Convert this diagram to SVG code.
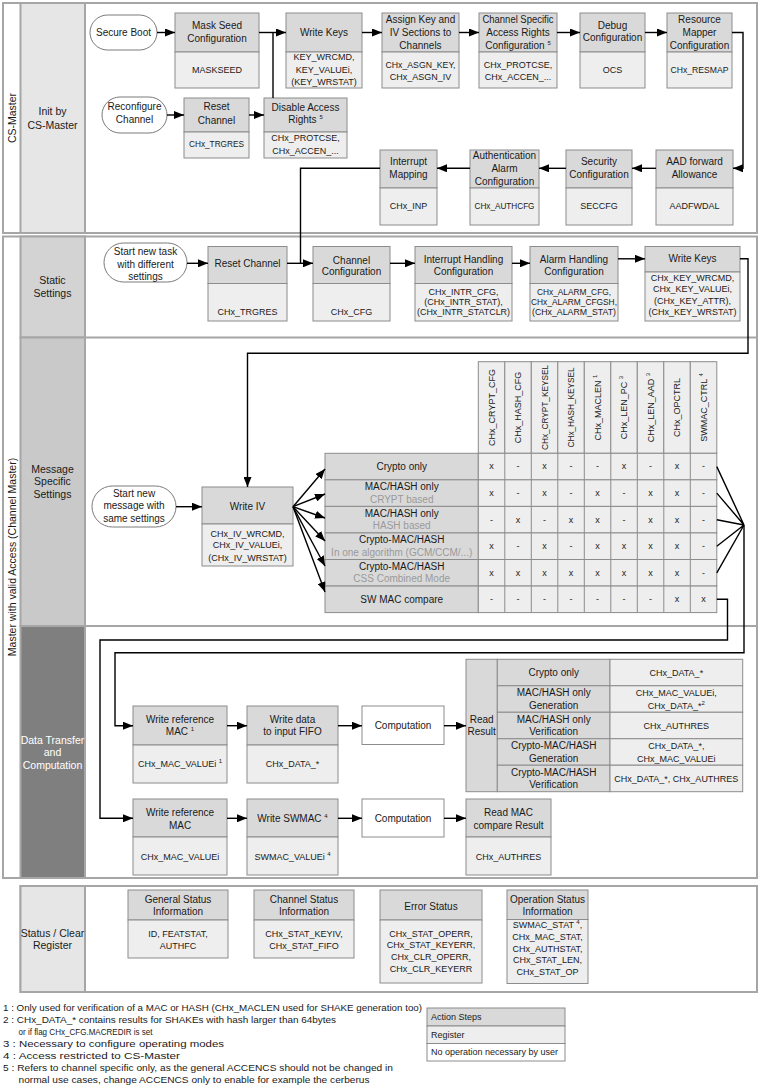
<svg xmlns="http://www.w3.org/2000/svg" width="770" height="1085" viewBox="0 0 770 1085">
<defs>
<marker id="ah" viewBox="0 0 10 8" refX="10" refY="4" markerWidth="10" markerHeight="8" markerUnits="userSpaceOnUse" orient="auto"><path d="M0,0L10,4L0,8z" fill="#000"/></marker>
<style>
.t{font-family:"Liberation Sans",Arial,sans-serif;font-size:10px;fill:#1a1a1a;text-anchor:middle}
.s{font-size:9px}
.l{font-size:10.5px}
.w{fill:#fff}
.gr{fill:#9a9a9a}
.st{text-anchor:start}
.hd{fill:#d9d9d9;stroke:#8c8c8c;stroke-width:1}
.bd{fill:#eeeeee;stroke:#8c8c8c;stroke-width:1}
.wt{fill:#fff;stroke:#8c8c8c;stroke-width:1}
.pill{fill:#fff;stroke:#7a7a7a;stroke-width:1}
.lane{stroke:#a6a6a6;stroke-width:2}
.c{fill:none;stroke:#000;stroke-width:1.4}
.a{marker-end:url(#ah)}
.sup{font-size:6px}
</style>
</defs>
<rect width="770" height="1085" fill="#fff"/>

<g id="lanes">
<rect class="lane" x="3" y="3" width="754" height="230" fill="#fff"/>
<rect class="lane" x="20.5" y="3" width="64.5" height="230" fill="#e6e6e6"/>
<text class="t l" transform="translate(15.5 118) rotate(-90)">CS-Master</text>
<text class="t l" x="52.5" y="115.2">Init by</text>
<text class="t l" x="52.5" y="128.5">CS-Master</text>

<rect class="lane" x="3" y="236.5" width="754" height="641.5" fill="#fff"/>
<rect class="lane" x="20.5" y="236.5" width="64.5" height="101" fill="#d3d3d3"/>
<rect class="lane" x="20.5" y="337.5" width="64.5" height="288.5" fill="#c9c9c9"/>
<rect class="lane" x="20.5" y="626" width="64.5" height="252" fill="#7f7f7f"/>
<line class="lane" x1="85" y1="337.5" x2="757" y2="337.5"/>
<line class="lane" x1="85" y1="626" x2="757" y2="626"/>
<text class="t l" transform="translate(15.5 557) rotate(-90)">Master with valid Access (Channel Master)</text>
<text class="t l" x="52.5" y="283.5">Static</text>
<text class="t l" x="52.5" y="296.8">Settings</text>
<text class="t l" x="52.5" y="472.5">Message</text>
<text class="t l" x="52.5" y="485.2">Specific</text>
<text class="t l" x="52.5" y="497.8">Settings</text>
<text class="t l w" x="52.5" y="743.5">Data Transfer</text>
<text class="t l w" x="52.5" y="756.2">and</text>
<text class="t l w" x="52.5" y="768.5">Computation</text>

<rect class="lane" x="20.5" y="886" width="736.5" height="106" fill="#fff"/>
<rect class="lane" x="20.5" y="886" width="64.5" height="106" fill="#e6e6e6"/>
<text class="t l" x="52.5" y="936.8">Status / Clear</text>
<text class="t l" x="52.5" y="949.2">Register</text>
</g>

<g id="secure-boot"><rect class="pill" x="90" y="15" width="67" height="35" rx="17.5"/><text class="t" x="123.5" y="36">Secure Boot</text></g>
<g id="mask-seed"><rect class="hd" x="175" y="13" width="84" height="39"/><rect class="bd" x="175" y="52" width="84" height="36"/><text class="t" x="217" y="28.5">Mask Seed</text><text class="t" x="217" y="41.5">Configuration</text><text class="t s" x="217" y="73.2">MASKSEED</text></g>
<g id="write-keys-init"><rect class="hd" x="286" y="13" width="76" height="39"/><rect class="bd" x="286" y="52" width="76" height="36"/><text class="t" x="324" y="36">Write Keys</text><text class="t s" x="324" y="60">KEY_WRCMD,</text><text class="t s" x="324" y="73.2">KEY_VALUEi,</text><text class="t s" x="324" y="85">(KEY_WRSTAT)</text></g>
<g id="assign-key"><rect class="hd" x="382" y="13" width="77" height="39"/><rect class="bd" x="382" y="52" width="77" height="36"/><text class="t" x="420.5" y="22.8">Assign Key and</text><text class="t" x="420.5" y="36.2">IV Sections to</text><text class="t" x="420.5" y="48.5">Channels</text><text class="t s" x="420.5" y="68.2" textLength="70" lengthAdjust="spacingAndGlyphs">CHx_ASGN_KEY,</text><text class="t s" x="420.5" y="79.5">CHx_ASGN_IV</text></g>
<g id="channel-access"><rect class="hd" x="479" y="13" width="78" height="39"/><rect class="bd" x="479" y="52" width="78" height="36"/><text class="t" x="518" y="22.8" textLength="71" lengthAdjust="spacingAndGlyphs">Channel Specific</text><text class="t" x="518" y="36.2">Access Rights</text><text class="t" x="518" y="48.5">Configuration <tspan class="sup" dy="-4">5</tspan></text><text class="t s" x="518" y="68.2">CHx_PROTCSE,</text><text class="t s" x="518" y="79.5">CHx_ACCEN_...</text></g>
<g id="debug-config"><rect class="hd" x="580" y="13" width="65" height="39"/><rect class="bd" x="580" y="52" width="65" height="36"/><text class="t" x="612.5" y="28.5">Debug</text><text class="t" x="612.5" y="41.2">Configuration</text><text class="t s" x="612.5" y="73.2">OCS</text></g>
<g id="resource-mapper"><rect class="hd" x="667" y="13" width="65" height="39"/><rect class="bd" x="667" y="52" width="65" height="36"/><text class="t" x="699.5" y="22.8">Resource</text><text class="t" x="699.5" y="36.2">Mapper</text><text class="t" x="699.5" y="48.5">Configuration</text><text class="t s" x="699.5" y="73.2" textLength="58" lengthAdjust="spacingAndGlyphs">CHx_RESMAP</text></g>

<g id="reconfigure"><rect class="pill" x="102" y="97" width="65" height="36" rx="18"/><text class="t" x="134.5" y="110.2">Reconfigure</text><text class="t" x="134.5" y="122.8">Channel</text></g>
<g id="reset-channel-init"><rect class="hd" x="184" y="98" width="65" height="34"/><rect class="bd" x="184" y="132" width="65" height="26"/><text class="t" x="216.5" y="110.2">Reset</text><text class="t" x="216.5" y="123.5">Channel</text><text class="t s" x="216.5" y="147.2" textLength="55" lengthAdjust="spacingAndGlyphs">CHx_TRGRES</text></g>
<g id="disable-access"><rect class="hd" x="264" y="98" width="83" height="34"/><rect class="bd" x="264" y="132" width="83" height="26"/><text class="t" x="305.5" y="110.8">Disable Access</text><text class="t" x="305.5" y="122.8">Rights <tspan class="sup" dy="-4">5</tspan></text><text class="t s" x="305.5" y="140.5">CHx_PROTCSE,</text><text class="t s" x="305.5" y="153.9">CHx_ACCEN_...</text></g>

<g id="aad-forward"><rect class="hd" x="656" y="150" width="77" height="38"/><rect class="bd" x="656" y="188" width="77" height="37"/><text class="t" x="694.5" y="165.2">AAD forward</text><text class="t" x="694.5" y="177.5">Allowance</text><text class="t s" x="694.5" y="209.2">AADFWDAL</text></g>
<g id="security-config"><rect class="hd" x="566" y="150" width="66" height="38"/><rect class="bd" x="566" y="188" width="66" height="37"/><text class="t" x="599" y="165.2">Security</text><text class="t" x="599" y="177.5">Configuration</text><text class="t s" x="599" y="209.2">SECCFG</text></g>
<g id="auth-alarm"><rect class="hd" x="470" y="150" width="69" height="38"/><rect class="bd" x="470" y="188" width="69" height="37"/><text class="t" x="504.5" y="159.2">Authentication</text><text class="t" x="504.5" y="171.8">Alarm</text><text class="t" x="504.5" y="184.5">Configuration</text><text class="t s" x="504.5" y="209.2" textLength="60" lengthAdjust="spacingAndGlyphs">CHx_AUTHCFG</text></g>
<g id="interrupt-mapping"><rect class="hd" x="380" y="150" width="57" height="38"/><rect class="bd" x="380" y="188" width="57" height="37"/><text class="t" x="408.5" y="165.2">Interrupt</text><text class="t" x="408.5" y="177.5">Mapping</text><text class="t s" x="408.5" y="209.2">CHx_INP</text></g>

<g id="start-task"><rect class="pill" x="104" y="243" width="83" height="39" rx="19.5"/><text class="t" x="145.5" y="255.2">Start new task</text><text class="t" x="145.5" y="267.8">with different</text><text class="t" x="145.5" y="280.2">settings</text></g>
<g id="reset-channel"><rect class="hd" x="208" y="246.5" width="79" height="37"/><rect class="bd" x="208" y="283.5" width="79" height="37.5"/><text class="t" x="247.5" y="266.8">Reset Channel</text><text class="t s" x="247.5" y="314.9">CHx_TRGRES</text></g>
<g id="channel-config"><rect class="hd" x="313" y="246.5" width="77" height="37"/><rect class="bd" x="313" y="283.5" width="77" height="37.5"/><text class="t" x="351.5" y="263.5">Channel</text><text class="t" x="351.5" y="275.2">Configuration</text><text class="t s" x="351.5" y="314.9">CHx_CFG</text></g>
<g id="interrupt-handling"><rect class="hd" x="415" y="246.5" width="97" height="37"/><rect class="bd" x="415" y="283.5" width="97" height="37.5"/><text class="t" x="463.5" y="262.8">Interrupt Handling</text><text class="t" x="463.5" y="275.2">Configuration</text><text class="t s" x="463.5" y="294.9">CHx_INTR_CFG,</text><text class="t s" x="463.5" y="304.9">(CHx_INTR_STAT),</text><text class="t s" x="463.5" y="314.9" textLength="93" lengthAdjust="spacingAndGlyphs">(CHx_INTR_STATCLR)</text></g>
<g id="alarm-handling"><rect class="hd" x="530" y="246.5" width="88" height="37"/><rect class="bd" x="530" y="283.5" width="88" height="37.5"/><text class="t" x="574" y="262.8">Alarm Handling</text><text class="t" x="574" y="275.2">Configuration</text><text class="t s" x="574" y="294.9" textLength="74" lengthAdjust="spacingAndGlyphs">CHx_ALARM_CFG,</text><text class="t s" x="574" y="304.9" textLength="86" lengthAdjust="spacingAndGlyphs">CHx_ALARM_CFGSH,</text><text class="t s" x="574" y="314.9" textLength="84" lengthAdjust="spacingAndGlyphs">(CHx_ALARM_STAT)</text></g>
<g id="write-keys-static"><rect class="hd" x="645" y="246.5" width="95" height="25.5"/><rect class="bd" x="645" y="272" width="95" height="49"/><text class="t" x="692.5" y="262">Write Keys</text><text class="t s" x="692.5" y="281">CHx_KEY_WRCMD,</text><text class="t s" x="692.5" y="292.4">CHx_KEY_VALUEi,</text><text class="t s" x="692.5" y="303.8">(CHx_KEY_ATTR),</text><text class="t s" x="692.5" y="315">(CHx_KEY_WRSTAT)</text></g>

<g id="start-message"><rect class="pill" x="92" y="486" width="84" height="41" rx="20.5"/><text class="t" x="134" y="496.8">Start new</text><text class="t" x="134" y="509.4">message with</text><text class="t" x="134" y="521.8">same settings</text></g>
<g id="write-iv"><rect class="hd" x="202" y="487" width="91" height="37"/><rect class="bd" x="202" y="524" width="91" height="42"/><text class="t" x="247.5" y="510.2">Write IV</text><text class="t s" x="247.5" y="536.5">CHx_IV_WRCMD,</text><text class="t s" x="247.5" y="548.2">CHx_IV_VALUEi,</text><text class="t s" x="247.5" y="560.5">(CHx_IV_WRSTAT)</text></g>

<g id="mode-table">
<g class="bd">
<rect x="478.3" y="361.7" width="26.5" height="91.6"/><rect x="504.8" y="361.7" width="26.5" height="91.6"/><rect x="531.3" y="361.7" width="26.5" height="91.6"/><rect x="557.8" y="361.7" width="26.5" height="91.6"/><rect x="584.3" y="361.7" width="26.5" height="91.6"/><rect x="610.8" y="361.7" width="26.5" height="91.6"/><rect x="637.3" y="361.7" width="26.5" height="91.6"/><rect x="663.8" y="361.7" width="26.5" height="91.6"/><rect x="690.3" y="361.7" width="26.5" height="91.6"/>
</g>
<text class="t s" transform="translate(494.75 407.5) rotate(-90)">CHx_CRYPT_CFG</text>
<text class="t s" transform="translate(521.25 407.5) rotate(-90)">CHx_HASH_CFG</text>
<text class="t s" transform="translate(547.75 407.5) rotate(-90)" textLength="85" lengthAdjust="spacingAndGlyphs">CHx_CRYPT_KEYSEL</text>
<text class="t s" transform="translate(574.25 407.5) rotate(-90)" textLength="80" lengthAdjust="spacingAndGlyphs">CHx_HASH_KEYSEL</text>
<text class="t s" transform="translate(600.75 407.5) rotate(-90)">CHx_MACLEN <tspan class="sup" dy="-4">1</tspan></text>
<text class="t s" transform="translate(627.25 407.5) rotate(-90)">CHx_LEN_PC <tspan class="sup" dy="-4">3</tspan></text>
<text class="t s" transform="translate(653.75 407.5) rotate(-90)">CHx_LEN_AAD <tspan class="sup" dy="-4">3</tspan></text>
<text class="t s" transform="translate(680.25 407.5) rotate(-90)">CHx_OPCTRL</text>
<text class="t s" transform="translate(706.75 407.5) rotate(-90)">SWMAC_CTRL <tspan class="sup" dy="-4">4</tspan></text>
<g class="hd">
<rect x="325" y="453.3" width="153.3" height="26.55"/><rect x="325" y="479.85" width="153.3" height="26.55"/><rect x="325" y="506.4" width="153.3" height="26.55"/><rect x="325" y="532.95" width="153.3" height="26.55"/><rect x="325" y="559.5" width="153.3" height="26.55"/><rect x="325" y="586.05" width="153.3" height="26.55"/>
</g>
<g class="bd">
<rect x="478.3" y="453.3" width="238.5" height="26.55"/><rect x="478.3" y="479.85" width="238.5" height="26.55"/><rect x="478.3" y="506.4" width="238.5" height="26.55"/><rect x="478.3" y="532.95" width="238.5" height="26.55"/><rect x="478.3" y="559.5" width="238.5" height="26.55"/><rect x="478.3" y="586.05" width="238.5" height="26.55"/>
</g>
<path d="M504.8,453.3V612.6M531.3,453.3V612.6M557.8,453.3V612.6M584.3,453.3V612.6M610.8,453.3V612.6M637.3,453.3V612.6M663.8,453.3V612.6M690.3,453.3V612.6" stroke="#8c8c8c" stroke-width="1" fill="none"/>
<text class="t" x="401.7" y="470.1">Crypto only</text>
<text class="t" x="401.7" y="490.3">MAC/HASH only</text><text class="t gr" x="401.7" y="502.8">CRYPT based</text>
<text class="t" x="401.7" y="516.8">MAC/HASH only</text><text class="t gr" x="401.7" y="529.3">HASH based</text>
<text class="t" x="401.7" y="543.3">Crypto-MAC/HASH</text><text class="t gr" x="401.7" y="555.8">In one algorithm (GCM/CCM/...)</text>
<text class="t" x="401.7" y="569.9">Crypto-MAC/HASH</text><text class="t gr" x="401.7" y="582.4">CSS Combined Mode</text>
<text class="t" x="401.7" y="602.8">SW MAC compare</text>
<g class="t s">
<text x="491.55" y="469.4">x</text><text x="518.05" y="469.4">-</text><text x="544.55" y="469.4">x</text><text x="571.05" y="469.4">-</text><text x="597.55" y="469.4">-</text><text x="624.05" y="469.4">x</text><text x="650.55" y="469.4">-</text><text x="677.05" y="469.4">x</text><text x="703.55" y="469.4">-</text>
<text x="491.55" y="495.9">x</text><text x="518.05" y="495.9">-</text><text x="544.55" y="495.9">x</text><text x="571.05" y="495.9">-</text><text x="597.55" y="495.9">x</text><text x="624.05" y="495.9">-</text><text x="650.55" y="495.9">x</text><text x="677.05" y="495.9">x</text><text x="703.55" y="495.9">-</text>
<text x="491.55" y="522.5">-</text><text x="518.05" y="522.5">x</text><text x="544.55" y="522.5">-</text><text x="571.05" y="522.5">x</text><text x="597.55" y="522.5">x</text><text x="624.05" y="522.5">-</text><text x="650.55" y="522.5">x</text><text x="677.05" y="522.5">x</text><text x="703.55" y="522.5">-</text>
<text x="491.55" y="549">x</text><text x="518.05" y="549">-</text><text x="544.55" y="549">x</text><text x="571.05" y="549">-</text><text x="597.55" y="549">x</text><text x="624.05" y="549">x</text><text x="650.55" y="549">x</text><text x="677.05" y="549">x</text><text x="703.55" y="549">-</text>
<text x="491.55" y="575.6">x</text><text x="518.05" y="575.6">x</text><text x="544.55" y="575.6">x</text><text x="571.05" y="575.6">x</text><text x="597.55" y="575.6">x</text><text x="624.05" y="575.6">x</text><text x="650.55" y="575.6">x</text><text x="677.05" y="575.6">x</text><text x="703.55" y="575.6">-</text>
<text x="491.55" y="602.1">-</text><text x="518.05" y="602.1">-</text><text x="544.55" y="602.1">-</text><text x="571.05" y="602.1">-</text><text x="597.55" y="602.1">-</text><text x="624.05" y="602.1">-</text><text x="650.55" y="602.1">-</text><text x="677.05" y="602.1">x</text><text x="703.55" y="602.1">x</text>
</g>
</g>

<g id="write-ref-mac-1"><rect class="hd" x="133" y="706" width="94" height="39"/><rect class="bd" x="133" y="745" width="94" height="38"/><text class="t" x="180" y="722.8">Write reference</text><text class="t" x="180" y="735.2">MAC <tspan class="sup" dy="-4">1</tspan></text><text class="t s" x="180" y="766.5">CHx_MAC_VALUEi <tspan class="sup" dy="-4">1</tspan></text></g>
<g id="write-data"><rect class="hd" x="247" y="706" width="91" height="39"/><rect class="bd" x="247" y="745" width="91" height="38"/><text class="t" x="292.5" y="722.8">Write data</text><text class="t" x="292.5" y="735.2">to input FIFO</text><text class="t s" x="292.5" y="766.5">CHx_DATA_*</text></g>
<g id="computation-1"><rect class="wt" x="362" y="706" width="82" height="38.5"/><text class="t" x="403" y="729.2">Computation</text></g>
<g id="read-result">
<rect class="hd" x="466" y="659.3" width="31.3" height="132.4"/>
<text class="t" x="481.7" y="722.8">Read</text><text class="t" x="481.7" y="735.2">Result</text>
<rect class="hd" x="497.3" y="659.3" width="112.7" height="26.48"/><rect class="hd" x="497.3" y="685.78" width="112.7" height="26.48"/><rect class="hd" x="497.3" y="712.26" width="112.7" height="26.48"/><rect class="hd" x="497.3" y="738.74" width="112.7" height="26.48"/><rect class="hd" x="497.3" y="765.22" width="112.7" height="26.48"/>
<rect class="bd" x="610" y="659.3" width="132.7" height="26.48"/><rect class="bd" x="610" y="685.78" width="132.7" height="26.48"/><rect class="bd" x="610" y="712.26" width="132.7" height="26.48"/><rect class="bd" x="610" y="738.74" width="132.7" height="26.48"/><rect class="bd" x="610" y="765.22" width="132.7" height="26.48"/>
<text class="t" x="553.7" y="676">Crypto only</text>
<text class="t" x="553.7" y="696.2">MAC/HASH only</text><text class="t" x="553.7" y="708.8">Generation</text>
<text class="t" x="553.7" y="722.7">MAC/HASH only</text><text class="t" x="553.7" y="735.3">Verification</text>
<text class="t" x="553.7" y="749.2">Crypto-MAC/HASH</text><text class="t" x="553.7" y="761.8">Generation</text>
<text class="t" x="553.7" y="775.7">Crypto-MAC/HASH</text><text class="t" x="553.7" y="788.3">Verification</text>
<text class="t s" x="676.3" y="675.7">CHx_DATA_*</text>
<text class="t s" x="676.3" y="695.9">CHx_MAC_VALUEi,</text><text class="t s" x="676.3" y="708.5">CHx_DATA_*<tspan class="sup" dy="-4">2</tspan></text>
<text class="t s" x="676.3" y="728.7">CHx_AUTHRES</text>
<text class="t s" x="676.3" y="748.9">CHx_DATA_*,</text><text class="t s" x="676.3" y="761.5">CHx_MAC_VALUEi</text>
<text class="t s" x="676.3" y="781.7">CHx_DATA_*, CHx_AUTHRES</text>
</g>
<g id="write-ref-mac-2"><rect class="hd" x="133" y="799" width="94" height="38"/><rect class="bd" x="133" y="837" width="94" height="38"/><text class="t" x="180" y="816.2">Write reference</text><text class="t" x="180" y="828.5">MAC</text><text class="t s" x="180" y="859.9">CHx_MAC_VALUEi</text></g>
<g id="write-swmac"><rect class="hd" x="247" y="799" width="91" height="38"/><rect class="bd" x="247" y="837" width="91" height="38"/><text class="t" x="292.5" y="821.8">Write SWMAC <tspan class="sup" dy="-4">4</tspan></text><text class="t s" x="292.5" y="859.9">SWMAC_VALUEi <tspan class="sup" dy="-4">4</tspan></text></g>
<g id="computation-2"><rect class="wt" x="362" y="799" width="82" height="38"/><text class="t" x="403" y="821.8">Computation</text></g>
<g id="read-mac-compare"><rect class="hd" x="466" y="799" width="85" height="38"/><rect class="bd" x="466" y="837" width="85" height="38"/><text class="t" x="508.5" y="816.2">Read MAC</text><text class="t" x="508.5" y="828.5">compare Result</text><text class="t s" x="508.5" y="859.9">CHx_AUTHRES</text></g>

<g id="general-status"><rect class="hd" x="128" y="890" width="100" height="30"/><rect class="bd" x="128" y="920" width="100" height="38"/><text class="t" x="178" y="902.8">General Status</text><text class="t" x="178" y="915.2">Information</text><text class="t s" x="178" y="936.5">ID, FEATSTAT,</text><text class="t s" x="178" y="948.9">AUTHFC</text></g>
<g id="channel-status"><rect class="hd" x="254" y="890" width="100" height="30"/><rect class="bd" x="254" y="920" width="100" height="38"/><text class="t" x="304" y="902.8">Channel Status</text><text class="t" x="304" y="915.2">Information</text><text class="t s" x="304" y="936.5">CHx_STAT_KEYIV,</text><text class="t s" x="304" y="948.9">CHx_STAT_FIFO</text></g>
<g id="error-status"><rect class="hd" x="380" y="890" width="102" height="30"/><rect class="bd" x="380" y="920" width="102" height="63"/><text class="t" x="431" y="910.2">Error Status</text><text class="t s" x="431" y="936.5">CHx_STAT_OPERR,</text><text class="t s" x="431" y="948.2">CHx_STAT_KEYERR,</text><text class="t s" x="431" y="959.9">CHx_CLR_OPERR,</text><text class="t s" x="431" y="971.6">CHx_CLR_KEYERR</text></g>
<g id="operation-status"><rect class="hd" x="507" y="890" width="81" height="29.5"/><rect class="bd" x="507" y="919.5" width="81" height="64"/><text class="t" x="547.5" y="902.8">Operation Status</text><text class="t" x="547.5" y="915.2">Information</text><text class="t s" x="547.5" y="928.2">SWMAC_STAT <tspan class="sup" dy="-4">4</tspan><tspan dy="4">,</tspan></text><text class="t s" x="547.5" y="939.9">CHx_MAC_STAT,</text><text class="t s" x="547.5" y="951.6">CHx_AUTHSTAT,</text><text class="t s" x="547.5" y="963.3">CHx_STAT_LEN,</text><text class="t s" x="547.5" y="975">CHx_STAT_OP</text></g>

<g id="connectors">
<path class="c a" d="M157,32.5H175"/>
<path class="c a" d="M259,32.5H286"/>
<path class="c" d="M273,98V32.5"/>
<path class="c a" d="M362,32.5H382"/>
<path class="c a" d="M459,32.5H479"/>
<path class="c a" d="M557,32.5H580"/>
<path class="c a" d="M645,32.5H667"/>
<path class="c a" d="M732,32.5H743V168.3H733"/>
<path class="c a" d="M656,168.3H632"/>
<path class="c a" d="M566,168.3H539"/>
<path class="c a" d="M470,168.3H437"/>
<path class="c" d="M380,168.3H300.5V263.3"/>
<path class="c a" d="M167,115H184"/>
<path class="c a" d="M249,115H264"/>
<path class="c a" d="M187,263.3H208"/>
<path class="c a" d="M287,263.3H313"/>
<path class="c a" d="M390,263.3H415"/>
<path class="c a" d="M512,263.3H530"/>
<path class="c a" d="M618,258.8H645"/>
<path class="c a" d="M740,258.8H748V353.3H247.5V487"/>
<path class="c a" d="M176,506.7H202"/>
<path class="c a" d="M293,506.7L325,469"/>
<path class="c a" d="M293,506.7L325,494"/>
<path class="c a" d="M293,506.7L325,518"/>
<path class="c a" d="M293,506.7L325,541"/>
<path class="c a" d="M293,506.7L325,566"/>
<path class="c a" d="M293,506.7L325,592"/>
<path class="c" d="M716.8,466.6L744,525M716.8,493.1L744,525M716.8,519.7L744,525M716.8,546.2L744,525M716.8,572.8L744,525"/>
<path class="c a" d="M744,525V652.7H115V725.7H133"/>
<path class="c a" d="M716.8,599.3H727.5V640H100V818.3H133"/>
<path class="c a" d="M227,725.7H247"/>
<path class="c a" d="M338,725.7H362"/>
<path class="c a" d="M444,725.7H466"/>
<path class="c a" d="M227,818.3H247"/>
<path class="c a" d="M338,818.3H362"/>
<path class="c a" d="M444,818.3H466"/>
</g>

<g id="legend">
<rect class="hd" x="427" y="1008" width="138" height="18"/>
<rect class="bd" x="427" y="1026" width="138" height="17.5"/>
<rect class="wt" x="427" y="1043.5" width="138" height="17.5"/>
<text class="t s st" x="431" y="1020.2">Action Steps</text>
<text class="t s st" x="431" y="1037.9">Register</text>
<text class="t s st" x="431" y="1055.4">No operation necessary by user</text>
</g>

<g id="footnotes" class="t s st">
<text x="3" y="1010.5" textLength="419" lengthAdjust="spacingAndGlyphs">1 : Only used for verification of a MAC or HASH (CHx_MACLEN used for SHAKE generation too)</text>
<text x="3" y="1022.5" textLength="333" lengthAdjust="spacingAndGlyphs">2 : CHx_DATA_* contains results for SHAKEs with hash larger than 64bytes</text>
<text x="18.5" y="1034.5" textLength="134" lengthAdjust="spacingAndGlyphs">or if flag CHx_CFG.MACREDIR is set</text>
<text x="3" y="1046.5" textLength="221" lengthAdjust="spacingAndGlyphs">3 : Necessary to configure operating modes</text>
<text x="3" y="1058.5" textLength="177" lengthAdjust="spacingAndGlyphs">4 : Access restricted to CS-Master</text>
<text x="3" y="1070.5" textLength="390" lengthAdjust="spacingAndGlyphs">5 : Refers to channel specific only, as the general ACCENCS should not be changed in</text>
<text x="18.5" y="1082.5" textLength="351" lengthAdjust="spacingAndGlyphs">normal use cases, change ACCENCS only to enable for example the cerberus</text>
</g>
</svg>
